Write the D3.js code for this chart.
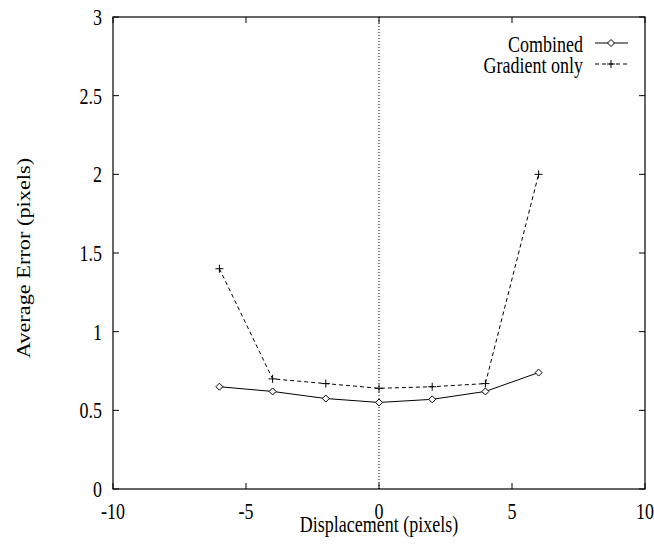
<!DOCTYPE html>
<html>
<head>
<meta charset="utf-8">
<script src="https://cdn.jsdelivr.net/npm/d3@7"></script>
<style>
  body { margin: 0; background: #fff; }
  text { font-family: 'Liberation Serif', 'Times New Roman', serif; font-size: 18px; fill: #000; }
</style>
</head>
<body>
<div id="chart"></div>
<script>
(function() {
const width = 654,
      height = 548

const displacement = [-6, -4, -2, 0, 2, 4, 6]
const combined = [0.65, 0.62, 0.575, 0.55, 0.57, 0.62, 0.74]
const gradientOnly = [1.40, 0.70, 0.67, 0.64, 0.65, 0.67, 2.00]
const xTicks = [-10, -5, 0, 5, 10]
const yTicks = [0, 0.5, 1, 1.5, 2, 2.5, 3]

const left = 113, right = 645, top = 17, bottom = 489
const stretch = 1.24   // the reference glyphs are taller than they are wide

const svg = d3.select('#chart')
  .append('svg')
  .attr('width', width)
  .attr('height', height)

const x = d3.scaleLinear().domain([-10, 10]).range([left, right])
const y = d3.scaleLinear().domain([0, 3]).range([bottom, top])

function label(px, py, str, anchor, rot) {
  return svg.append('text')
    .attr('transform', 'translate(' + px + ',' + py + ') scale(1,' + stretch + ')' + (rot ? ' rotate(-90)' : ''))
    .attr('text-anchor', anchor)
    .text(str)
}

// zero line
svg.append('line')
  .attr('x1', x(0)).attr('x2', x(0))
  .attr('y1', top).attr('y2', bottom)
  .attr('stroke', '#000')
  .attr('stroke-width', 1)
  .attr('stroke-dasharray', '1,2')

// mirrored ticks
const tk = 6
xTicks.forEach(function(t) {
  svg.append('line').attr('x1', x(t)).attr('x2', x(t)).attr('y1', bottom).attr('y2', bottom - tk).attr('stroke', '#000')
  svg.append('line').attr('x1', x(t)).attr('x2', x(t)).attr('y1', top).attr('y2', top + tk).attr('stroke', '#000')
  label(x(t), bottom + 30, t, 'middle')
})
yTicks.forEach(function(t) {
  svg.append('line').attr('x1', left).attr('x2', left + tk).attr('y1', y(t)).attr('y2', y(t)).attr('stroke', '#000')
  svg.append('line').attr('x1', right).attr('x2', right - tk).attr('y1', y(t)).attr('y2', y(t)).attr('stroke', '#000')
  label(left - 11, y(t) + 8, t, 'end')
})

svg.append('rect')
  .attr('x', left).attr('y', top)
  .attr('width', right - left).attr('height', bottom - top)
  .attr('fill', 'none').attr('stroke', '#000').attr('stroke-width', 1.2)

label((left + right) / 2, 532, 'Displacement (pixels)', 'middle')
label(30, 258, 'Average Error (pixels)', 'middle', true)

const line = d3.line()
  .x(function(d) { return x(d[0]) })
  .y(function(d) { return y(d[1]) })

const combData = d3.zip(displacement, combined)
const gradData = d3.zip(displacement, gradientOnly)

svg.append('path').datum(combData).attr('d', line)
  .attr('fill', 'none').attr('stroke', '#000').attr('stroke-width', 1)
svg.append('path').datum(gradData).attr('d', line)
  .attr('fill', 'none').attr('stroke', '#000').attr('stroke-width', 1).attr('stroke-dasharray', '4,3')

const diamond = function(cx, cy) {
  const r = 3.5
  return 'M' + cx + ',' + (cy - r) + 'L' + (cx + r) + ',' + cy + 'L' + cx + ',' + (cy + r) + 'L' + (cx - r) + ',' + cy + 'Z'
}
const plus = function(cx, cy) {
  const r = 4
  return 'M' + (cx - r) + ',' + cy + 'H' + (cx + r) + 'M' + cx + ',' + (cy - r) + 'V' + (cy + r)
}

svg.selectAll('.comb').data(combData).enter().append('path')
  .attr('class', 'comb')
  .attr('d', function(d) { return diamond(x(d[0]), y(d[1])) })
  .attr('fill', '#fff').attr('stroke', '#000').attr('stroke-width', 1)
svg.selectAll('.grad').data(gradData).enter().append('path')
  .attr('class', 'grad')
  .attr('d', function(d) { return plus(x(d[0]), y(d[1])) })
  .attr('fill', 'none').attr('stroke', '#000').attr('stroke-width', 1)

// legend
const legend = [
  { name: 'Combined', y: 43, dash: null, mark: diamond },
  { name: 'Gradient only', y: 64, dash: '4,3', mark: plus }
]
legend.forEach(function(l) {
  label(583, l.y + 9, l.name, 'end')
  svg.append('line').attr('x1', 595).attr('x2', 628).attr('y1', l.y).attr('y2', l.y)
    .attr('stroke', '#000').attr('stroke-dasharray', l.dash)
  svg.append('path').attr('d', l.mark(611, l.y))
    .attr('fill', l.mark === diamond ? '#fff' : 'none').attr('stroke', '#000')
})
})()
</script>
</body>
</html>
